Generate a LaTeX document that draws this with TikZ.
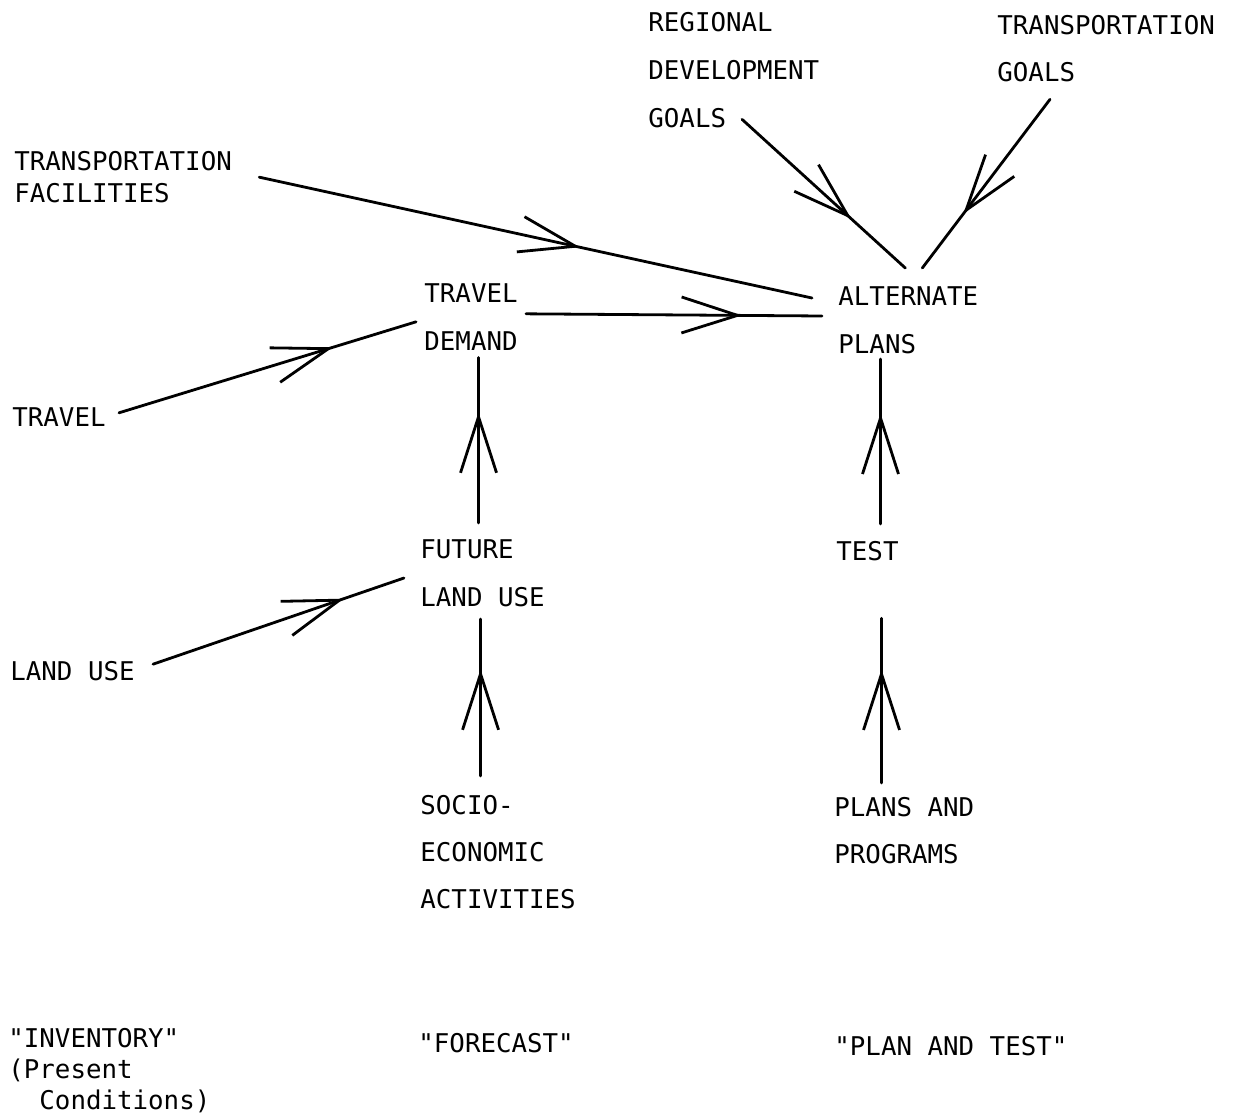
\documentclass[tikz,border=0pt]{standalone}
\usepackage{fontspec}
\setmainfont{DejaVu Sans Mono}
\usetikzlibrary{arrows.meta,decorations.markings,calc}
\newcommand{\dq}{\textquotedbl}
\tikzset{
    lbl/.style={anchor=north west, inner sep=0pt, align=left,
        font=\fontsize{12.9}{#1}\selectfont},
    lbl/.default=24,
    flow/.style={line width=1.4pt, line cap=round, postaction={decorate},
        decoration={markings, mark=at position #1 with
            {\arrow[line width=1.4pt]{Straight Barb[length=28pt,width=18pt]}}}},
    flow/.default=0.68
}
\begin{document}
\begin{tikzpicture}[x=0.5pt, y=-0.5pt]
        \useasboundingbox (0,0) rectangle (1235,1116);
        % sources and goals
        \node[lbl] (regional) at (648,12) {REGIONAL\\DEVELOPMENT\\GOALS};
        \node[lbl=23.5] (transgoals) at (997,15) {TRANSPORTATION\\GOALS};
        \node[lbl=16] (facilities) at (14,151) {TRANSPORTATION\\FACILITIES};
        \node[lbl] (travel) at (12,407) {TRAVEL};
        \node[lbl] (landuse) at (10,661) {LAND USE};
        % forecast column
        \node[lbl] (demand) at (424,283) {TRAVEL\\DEMAND};
        \node[lbl] (future) at (420,539) {FUTURE\\LAND USE};
        \node[lbl=23.5] (socio) at (420,795) {SOCIO-\\ECONOMIC\\ACTIVITIES};
        % plan and test column
        \node[lbl] (alternate) at (838,286) {ALTERNATE\\PLANS};
        \node[lbl] (test) at (836,541) {TEST};
        \node[lbl=23.5] (programs) at (834,797) {PLANS AND\\PROGRAMS};
        % column headings
        \node[lbl=15.5] (inventory) at (8,1028)
            {\dq INVENTORY\dq\\(Present\\\ \ Conditions)};
        \node[lbl] (forecast) at (418,1033) {\dq FORECAST\dq};
        \node[lbl] (plantest) at (834,1036) {\dq PLAN AND TEST\dq};

        \draw[flow=0.67] ($(regional.south west)+(94,-9)$) -- ($(alternate.north)+(-3,-18)$);
        \draw[flow=0.68] ($(transgoals.south west)+(53,17)$) -- ($(alternate.north)+(14,-18)$);
        \draw[flow=0.58] ($(facilities.east)+(27,0)$) -- ($(alternate.north west)+(-26,12)$);
        \draw[flow=0.73] ($(demand.east)+(8,-3)$) -- ($(alternate.west)+(-16,-4)$);
        \draw[flow=0.72] ($(travel.east)+(13,-4)$) -- ($(demand.west)+(-8,5)$);
        \draw[flow=0.67] ($(future.north)+(-4,-16)$) -- ($(demand.south)+(7.5,7)$);
        \draw[flow=0.76] ($(landuse.east)+(18,-7)$) -- ($(future.west)+(-16,5)$);
        \draw[flow=0.68] ($(socio.north)+(-17.5,-19)$) -- ($(future.south)+(-2,12)$);
        \draw[flow=0.67] ($(test.north)+(13,-17)$) -- ($(alternate.south)+(-27.75,5)$);
        \draw[flow=0.69] ($(programs.north)+(-22.75,-14)$) -- ($(test.south)+(14,57)$);
    \end{tikzpicture}
\end{document}
